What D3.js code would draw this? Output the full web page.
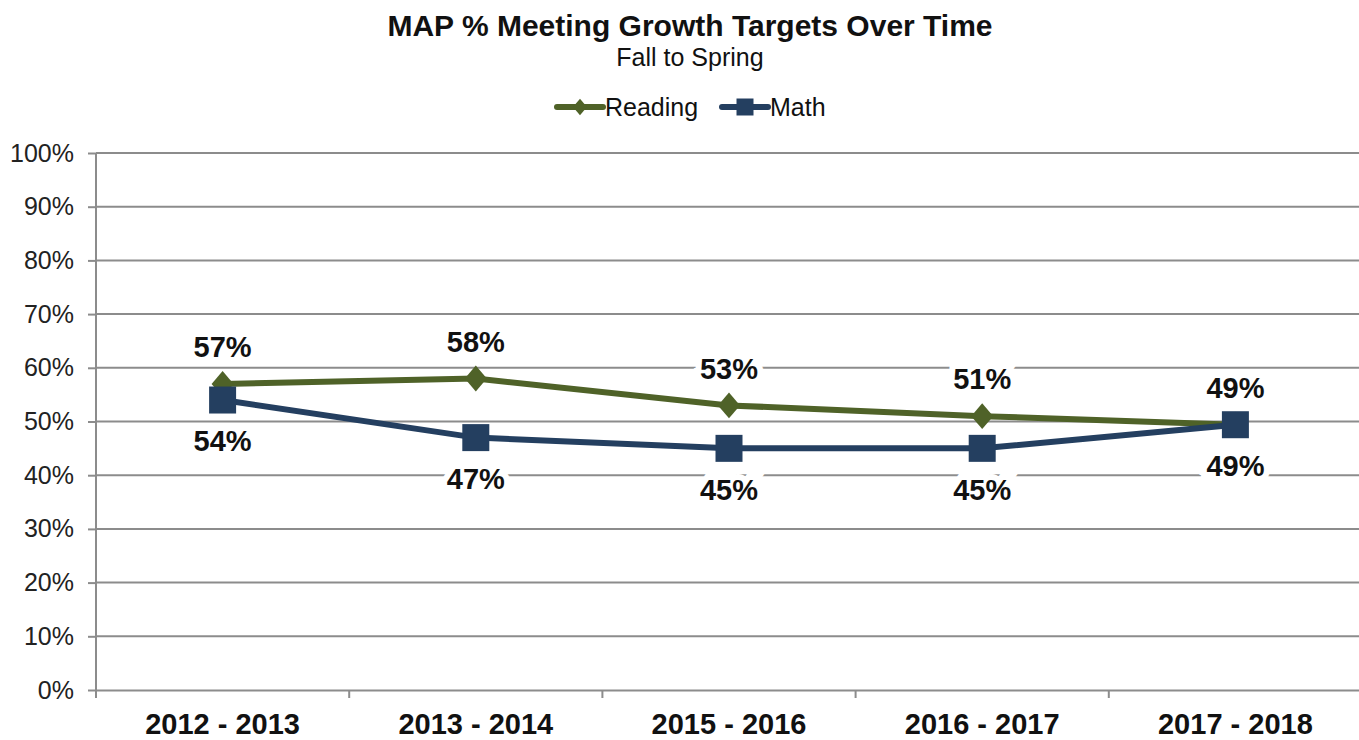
<!DOCTYPE html>
<html>
<head>
<meta charset="utf-8">
<script src="https://cdn.jsdelivr.net/npm/d3@7"></script>
<style>
  body { margin: 0; background: #fff; }
  text { font-family: "Liberation Sans", Arial, sans-serif; }
</style>
</head>
<body>
<svg id="chart" width="1359" height="740"></svg>
<script>
const years = ["2012 - 2013", "2013 - 2014", "2015 - 2016", "2016 - 2017", "2017 - 2018"]
const reading = [57, 58, 53, 51, 49.4]
const math = [54, 47, 45, 45, 49.4]
const yTicks = [0, 10, 20, 30, 40, 50, 60, 70, 80, 90, 100]

const W = 1359, H = 740
const M = { top: 153, right: -3, bottom: 50, left: 96 }
const svg = d3.select("#chart")

const x = d3.scaleBand().domain(years).range([M.left, W - M.right])
const y = d3.scaleLinear().domain([0, 100]).range([H - M.bottom, M.top])
const cx = d => x(d) + x.bandwidth() / 2

// diamond a bit wider than d3's, narrower than a rotated square
const diamond = {
  draw(ctx, size) {
    const h = Math.sqrt(size) * 0.72, w = h * 0.85
    ctx.moveTo(0, -h); ctx.lineTo(w, 0); ctx.lineTo(0, h); ctx.lineTo(-w, 0); ctx.closePath()
  }
}

// grid
svg.append("g").selectAll("line").data(yTicks.slice(1)).join("line")
  .attr("x1", M.left).attr("x2", W - M.right)
  .attr("y1", d => y(d)).attr("y2", d => y(d))
  .attr("stroke", "#8c8c8c").attr("stroke-width", 2)

const yAxis = svg.append("g").attr("transform", "translate(" + M.left + ",0)")
  .call(d3.axisLeft(y).tickValues(yTicks).tickFormat(d => d + "%").tickSize(8).tickPadding(14))
yAxis.selectAll("line, path").attr("stroke", "#8c8c8c").attr("stroke-width", 2)
yAxis.select(".domain").attr("d", "M0," + y(100) + "V" + y(0))
yAxis.selectAll("text").attr("font-size", 25).attr("fill", "#222").attr("font-family", "Liberation Sans, Arial")

const xAxis = svg.append("g").attr("transform", "translate(0," + y(0) + ")")
  .call(d3.axisBottom(x).tickSize(0).tickPadding(23))
xAxis.select(".domain").attr("stroke", "#8c8c8c").attr("stroke-width", 2)
xAxis.selectAll("text").attr("font-size", 29).attr("font-weight", "bold").attr("fill", "#111")
  .attr("font-family", "Liberation Sans, Arial")
svg.append("g").selectAll("line").data(d3.range(years.length + 1)).join("line")
  .attr("x1", i => M.left + i * x.step()).attr("x2", i => M.left + i * x.step())
  .attr("y1", y(0)).attr("y2", y(0) + 8)
  .attr("stroke", "#8c8c8c").attr("stroke-width", 2)

const series = [
  { name: "Reading", values: reading, color: "#4f6228", shape: diamond, size: 324, legSize: 130, dy: -37 },
  { name: "Math", values: math, color: "#243f60", shape: d3.symbolSquare, size: 729, legSize: 289, dy: 41 }
]

const line = d3.line().x((d, i) => cx(years[i])).y(d => y(d))

series.forEach(s => {
  svg.append("path").attr("d", line(s.values))
    .attr("fill", "none").attr("stroke", s.color).attr("stroke-width", 6)
})
series.forEach(s => {
  svg.append("g").selectAll("path").data(s.values).join("path")
    .attr("transform", (d, i) => "translate(" + cx(years[i]) + "," + y(d) + ")")
    .attr("d", d3.symbol(s.shape, s.size)).attr("fill", s.color)
})
series.forEach(s => {
  svg.append("g").selectAll("text").data(s.values).join("text")
    .attr("x", (d, i) => cx(years[i])).attr("y", d => y(d) + s.dy)
    .attr("dy", "0.35em").attr("text-anchor", "middle")
    .attr("font-size", 29).attr("font-weight", "bold").attr("fill", "#111")
    .attr("stroke", "#fff").attr("stroke-width", 12).attr("paint-order", "stroke")
    .text(d => Math.round(d) + "%")
})

// titles
svg.append("text").attr("x", 690).attr("y", 36).attr("text-anchor", "middle")
  .attr("font-size", 30).attr("font-weight", "bold").attr("fill", "#111")
  .text("MAP % Meeting Growth Targets Over Time")
svg.append("text").attr("x", 690).attr("y", 66).attr("text-anchor", "middle")
  .attr("font-size", 25).attr("fill", "#111").text("Fall to Spring")

// legend
const legX = [555, 720]
series.forEach((s, i) => {
  const g = svg.append("g").attr("transform", "translate(" + legX[i] + ",107)")
  g.append("line").attr("x1", 2).attr("x2", 48).attr("stroke", s.color).attr("stroke-width", 6)
    .attr("stroke-linecap", "round")
  g.append("path").attr("transform", "translate(25,0)")
    .attr("d", d3.symbol(s.shape, s.legSize)).attr("fill", s.color)
  g.append("text").attr("x", 50).attr("dy", "0.35em").attr("font-size", 25).attr("fill", "#111").text(s.name)
})
</script>
</body>
</html>
